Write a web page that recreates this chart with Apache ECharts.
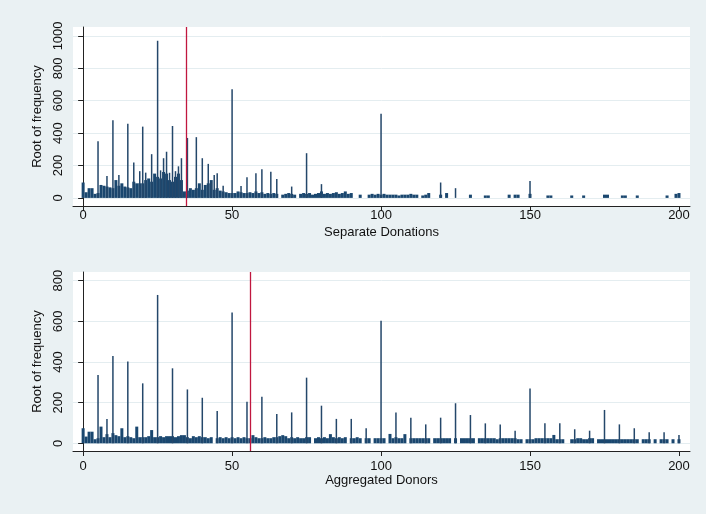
<!DOCTYPE html>
<html>
<head>
<meta charset="utf-8">
<title>Root of frequency</title>
<script src="https://cdn.jsdelivr.net/npm/echarts@6/dist/echarts.min.js"></script>
<style>
    html, body { margin: 0; padding: 0; background: #eaf1f3; }
    #chart { width: 706px; height: 514px; }
</style>
</head>
<body>
<div id="chart"></div>
<script>
// amount 0..200, one value per unit: the dense low bars
var topValues = [
    95, 35, 60, 60, 25, 30, 80, 75, 70, 65,
    60, 110, 75, 90, 70, 65, 60, 100, 90, 90,
    90, 110, 120, 100, 150, 130, 120, 160, 150, 110,
    100, 130, 150, 110, 40, 45, 60, 50, 60, 90,
    50, 80, 90, 110, 50, 60, 45, 40, 35, 30,
    30, 30, 40, 35, 30, 30, 35, 30, 40, 30,
    35, 25, 30, 25, 30, 25, 0, 20, 25, 30,
    25, 20, 0, 25, 30, 25, 30, 20, 25, 30,
    40, 25, 30, 25, 30, 35, 25, 30, 40, 25,
    30, 0, 0, 20, 0, 0, 20, 25, 20, 25,
    20, 25, 20, 20, 20, 20, 15, 20, 20, 20,
    25, 20, 20, 0, 15, 20, 30, 0, 0, 0,
    20, 0, 30, 0, 0, 0, 0, 0, 0, 0,
    20, 0, 0, 0, 0, 15, 15, 0, 0, 0,
    0, 0, 0, 20, 0, 20, 20, 0, 0, 0,
    25, 0, 0, 0, 0, 0, 15, 15, 0, 0,
    0, 0, 0, 0, 15, 0, 0, 0, 15, 0,
    0, 0, 0, 0, 0, 20, 20, 0, 0, 0,
    0, 15, 15, 0, 0, 0, 15, 0, 0, 0,
    0, 0, 0, 0, 0, 0, 15, 0, 0, 25,
    30
];
// tall single spikes
var topSpikeX = [5, 8, 10, 12, 15, 17, 19, 20, 21, 23, 25, 26, 27, 28, 29, 30, 31, 32, 33, 35,
    38, 40, 42, 43, 44, 45, 47, 50, 53, 55, 58, 60, 63, 65, 70, 75, 80, 100, 120, 125, 150];
var topSpikeY = [350, 135, 480, 142, 457, 218, 165, 440, 156, 270, 970, 170, 245, 285, 155, 444, 165, 195, 245, 370,
    375, 245, 210, 100, 142, 152, 75, 670, 74, 128, 152, 177, 162, 117, 70, 276, 85, 520, 95, 60, 105];

var bottomValues = [
    74, 33, 57, 57, 20, 25, 82, 30, 45, 30,
    50, 40, 35, 74, 30, 35, 30, 25, 82, 30,
    30, 30, 35, 65, 30, 30, 35, 30, 35, 35,
    35, 30, 35, 40, 40, 30, 25, 35, 30, 35,
    30, 30, 25, 30, 0, 25, 30, 25, 30, 25,
    30, 25, 30, 25, 30, 25, 25, 40, 30, 25,
    25, 30, 25, 25, 30, 30, 35, 40, 35, 25,
    30, 25, 30, 25, 25, 30, 30, 0, 25, 30,
    25, 30, 25, 45, 30, 25, 30, 25, 30, 0,
    25, 25, 30, 25, 0, 25, 25, 0, 25, 25,
    25, 25, 0, 46, 25, 30, 25, 25, 45, 0,
    25, 25, 25, 25, 25, 25, 25, 0, 25, 25,
    25, 25, 25, 25, 0, 25, 0, 25, 25, 25,
    25, 25, 0, 25, 25, 25, 25, 25, 25, 20,
    25, 25, 25, 25, 25, 25, 20, 20, 0, 20,
    20, 20, 25, 25, 25, 25, 25, 25, 41, 20,
    20, 20, 0, 0, 20, 20, 25, 25, 20, 20,
    25, 25, 0, 20, 20, 20, 20, 20, 20, 20,
    20, 20, 20, 20, 20, 20, 20, 0, 20, 20,
    20, 0, 20, 0, 20, 20, 20, 0, 20, 0,
    20
];
var bottomSpikeX = [5, 8, 10, 15, 20, 25, 30, 35, 40, 45, 50, 55, 60, 65, 70, 75, 80, 85, 90, 95, 100,
    105, 110, 115, 120, 125, 130, 135, 140, 145, 150, 155, 160, 165, 170, 175, 180, 185, 190, 195, 200];
var bottomSpikeY = [336, 120, 430, 402, 295, 730, 369, 265, 224, 159, 644, 205, 229, 144, 152, 323, 185, 120, 120, 74, 603,
    152, 126, 93, 126, 197, 139, 98, 93, 62, 270, 98, 98, 69, 62, 164, 93, 74, 54, 54, 41];

var xTicks = [0, 50, 100, 150, 200];
var topYTicks = [0, 200, 400, 600, 800, 1000];
var bottomYTicks = [0, 200, 400, 600, 800];
var topMedian = 34.5;
var bottomMedian = 56;

var navy = '#1a476f';
var textStyle = { color: '#111', fontFamily: 'Liberation Sans, Arial, sans-serif', fontSize: 13 };

function toPairs(values) {
    var out = [];
    for (var i = 0; i < values.length; i++) {
        if (values[i] > 0) out.push([i, values[i]]);
    }
    return out;
}

function zipPairs(xs, ys) {
    return xs.map(function (x, i) { return [x, ys[i]]; });
}

function plain(v) {
    return String(v);
}

function xAxis(grid, title, labelMargin, visible) {
    return {
        type: 'value', gridIndex: grid, min: -3.4, max: 203.7, show: visible,
        name: title, nameLocation: 'middle', nameGap: 20,
        nameTextStyle: textStyle,
        axisLine: { show: true, onZero: false, lineStyle: { color: '#222', width: 1 } },
        axisTick: { show: true, length: 5, customValues: xTicks, lineStyle: { color: '#222' } },
        axisLabel: { customValues: xTicks, formatter: plain, margin: labelMargin, color: textStyle.color, fontFamily: textStyle.fontFamily, fontSize: 13 },
        splitLine: { show: false }
    };
}

function yAxis(grid, min, max, ticks) {
    return {
        type: 'value', gridIndex: grid, min: min, max: max,
        name: 'Root of frequency', nameLocation: 'middle', nameGap: 27,
        nameTextStyle: textStyle,
        axisLine: { show: true, lineStyle: { color: '#222', width: 1 } },
        axisTick: { show: true, length: 5, customValues: ticks, lineStyle: { color: '#222' } },
        axisLabel: { customValues: ticks, formatter: plain, rotate: 90, margin: 8, color: textStyle.color, fontFamily: textStyle.fontFamily, fontSize: 13 },
        splitLine: { show: true, lineStyle: { color: '#e4edf0', width: 1 } }
    };
}

function panelSeries(xIndex, yIndex, values, spikes, median) {
    return [{
        type: 'bar', xAxisIndex: xIndex, yAxisIndex: yIndex,
        data: toPairs(values), barWidth: 3,
        itemStyle: { color: navy },
        markLine: {
            silent: true, symbol: ['none', 'none'], label: { show: false },
            lineStyle: { color: '#c0173f', width: 1.3, type: 'solid' },
            data: [{ xAxis: median }]
        }
    }, {
        type: 'bar', xAxisIndex: xIndex + 1, yAxisIndex: yIndex,
        data: spikes, barWidth: 1.5,
        itemStyle: { color: '#24476a' }
    }];
}

var chart = echarts.init(document.getElementById('chart'));
chart.setOption({
    animation: false,
    backgroundColor: '#eaf1f3',
    grid: [
        { left: 73, right: 16, top: 27, height: 179, show: true, backgroundColor: '#fff', borderWidth: 0 },
        { left: 73, right: 16, top: 272, height: 179, show: true, backgroundColor: '#fff', borderWidth: 0 }
    ],
    xAxis: [
        xAxis(0, 'Separate Donations', 3, true),
        xAxis(0, '', 3, false),
        xAxis(1, 'Aggregated Donors', 9, true),
        xAxis(1, '', 9, false)
    ],
    yAxis: [
        yAxis(0, -50, 1055, topYTicks),
        yAxis(1, -38, 843, bottomYTicks)
    ],
    series: panelSeries(0, 0, topValues, zipPairs(topSpikeX, topSpikeY), topMedian)
        .concat(panelSeries(2, 1, bottomValues, zipPairs(bottomSpikeX, bottomSpikeY), bottomMedian))
});
</script>
</body>
</html>
